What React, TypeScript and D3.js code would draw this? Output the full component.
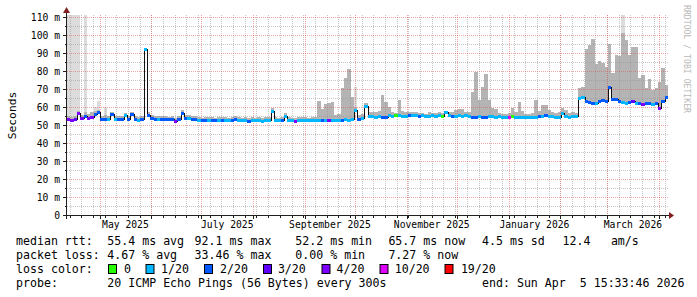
import React from 'react';
import * as d3 from 'd3';

const START = Date.UTC(2025, 3, 11, 12);
const END = Date.UTC(2026, 3, 6, 12);
const STEP_DAYS = 2;

// median rtt per 2-day step (ms)
const median: number[] = [
  53.2, 53.0, 53.4, 56.4, 54.0, 55.2, 54.0, 54.4, 56.2, 57.2,
  53.2, 53.4, 53.3, 56.0, 53.6, 53.2, 53.5, 55.3, 53.4, 56.0,
  53.3, 52.9, 53.4, 92.1, 55.6, 53.8, 53.5, 53.3, 53.6, 53.4,
  53.2, 53.5, 52.2, 53.6, 56.8, 54.0, 53.8, 53.5, 53.3, 52.6,
  52.6, 52.8, 52.7, 52.9, 52.6, 52.8, 53.0, 52.7, 52.6, 52.9,
  53.4, 52.9, 52.6, 52.8, 52.5, 52.7, 52.6, 52.8, 52.5, 52.7,
  52.8, 58.0, 52.7, 52.6, 52.8, 55.0, 52.7, 52.6, 52.5, 52.8,
  52.7, 52.8, 52.6, 52.8, 52.7, 52.9, 52.8, 52.6, 52.8, 52.7,
  52.8, 52.9, 53.0, 53.2, 52.9, 53.4, 58.3, 53.6, 53.8, 60.7,
  55.2, 54.8, 54.6, 55.0, 54.3, 54.5, 55.3, 55.0, 55.6, 55.3,
  55.2, 55.0, 55.4, 55.6, 55.3, 55.1, 55.4, 55.2, 55.0, 55.3,
  55.2, 55.4, 55.0, 57.4, 55.3, 55.0, 55.2, 55.4, 55.1, 55.3,
  54.8, 54.5, 54.7, 54.9, 54.6, 54.4, 54.8, 54.9, 54.6, 54.8,
  54.6, 54.4, 54.3, 54.9, 54.6, 54.5, 54.7, 54.5, 54.4, 54.6,
  54.6, 55.2, 54.8, 55.6, 54.9, 55.0, 54.7, 54.6, 56.8, 54.8,
  54.6, 54.8, 54.9, 65.0, 65.8, 63.2, 62.6, 62.4, 62.0, 63.5,
  63.8, 63.6, 71.0, 64.6, 64.2, 63.6, 63.0, 62.4, 62.8, 63.2,
  62.2, 62.0, 61.6, 62.3, 62.0, 61.8, 62.5, 59.5, 63.5, 65.7,
];

// loss class per step (index into lossColors)
const loss: number[] = [
  4, 4, 3, 4, 4, 2, 4, 4, 2, 2,
  2, 2, 1, 2, 1, 2, 2, 1, 2, 2,
  2, 1, 2, 1, 2, 2, 2, 1, 2, 2,
  2, 2, 4, 2, 2, 2, 1, 2, 2, 1,
  2, 2, 1, 2, 2, 1, 2, 1, 1, 2,
  2, 1, 1, 1, 2, 1, 1, 1, 1, 1,
  1, 1, 1, 1, 2, 1, 1, 1, 4, 1,
  1, 1, 1, 1, 1, 1, 2, 1, 4, 1,
  1, 1, 2, 1, 1, 1, 1, 2, 1, 1,
  1, 1, 1, 1, 2, 2, 1, 1, 0, 1,
  1, 1, 2, 1, 1, 2, 1, 1, 1, 1,
  1, 1, 0, 1, 1, 2, 1, 1, 1, 1,
  1, 2, 2, 1, 2, 2, 1, 1, 1, 1,
  1, 1, 5, 0, 1, 1, 1, 1, 1, 1,
  1, 2, 1, 2, 1, 1, 1, 1, 1, 1,
  1, 1, 1, 1, 1, 2, 2, 2, 1, 2,
  2, 2, 2, 2, 2, 2, 1, 1, 2, 3,
  1, 2, 4, 2, 2, 1, 2, 4, 2, 2,
];

// upper edge of the (dark) smoke per step (ms)
const smoke: number[] = [
  55, 54.5, 55, 58, 55.5, 57, 56, 57, 58, 58.5,
  54.8, 55.5, 54.8, 57.5, 55, 54.8, 55, 56.8, 55, 57.5,
  54.8, 54.5, 55, 93, 57, 55.3, 55, 54.8, 55, 55,
  54.7, 55, 54, 55, 58.3, 55.5, 55.3, 55, 54.8, 54.2,
  54.1, 54.3, 54.2, 54.4, 54.1, 54.3, 54.5, 54.2, 54.1, 54.4,
  54.9, 54.4, 54.1, 54.3, 54, 54.2, 54.1, 54.3, 54, 54.2,
  54.3, 59.5, 54.2, 54.1, 54.3, 56.5, 54.2, 54.1, 54, 54.3,
  54.2, 54.3, 54.1, 54.3, 54.2, 63.5, 59, 61.5, 62, 63,
  55.5, 56, 70.4, 76, 81, 65.7, 60, 55.5, 56, 62,
  57, 57, 57.5, 58, 66.7, 63, 60, 57, 56.5, 64,
  58, 57, 57.5, 57, 57.5, 56.5, 56.5, 56.3, 57, 56.8,
  56.5, 57, 56.5, 58, 57, 57.5, 58.5, 59, 59, 57,
  57, 68.5, 79.6, 63.9, 71.3, 78.3, 63.9, 59.4, 59, 56.6,
  56, 56, 56.5, 59.3, 57, 63, 58, 56, 56, 56.5,
  63.9, 58, 61, 61, 58.3, 57, 56.5, 57.5, 59.4, 58.3,
  56.5, 57, 56.6, 70.4, 70.9, 92, 94.5, 97.6, 84, 85.5,
  84.6, 82.4, 95, 78.7, 89, 88.5, 101, 97, 89, 93.5,
  93.5, 75.9, 77.8, 70.4, 75.4, 69.4, 70.4, 74, 81.5, 72.5,
];

// outer (light) smoke maxima: [step, ms]
const smokeLight: [number, number][] = [
  [0, 200], [1, 200], [2, 200], [3, 200], [5, 200],
  [8, 60], [9, 63.5], [11, 60], [86, 71], [166, 112],
];

const lossColors = ['#26ff00', '#00b8ff', '#0059ff', '#5e00ff', '#7e00ff', '#dd00ff', '#ff0000'];
const lossLabels = ['0', '1/20', '2/20', '3/20', '4/20', '10/20', '19/20'];
const yMajor = [0, 10, 20, 30, 40, 50, 60, 70, 80, 90, 100, 110];
const yMinor = [5, 15, 25, 35, 45, 55, 65, 75, 85, 95, 105];
const xLabelMonths = ['2025-05', '2025-07', '2025-09', '2025-11', '2026-01', '2026-03'];
const rttStats = ['55.4 ms avg', '92.1 ms max', '52.2 ms min', '65.7 ms now', '4.5 ms sd', '12.4', 'am/s'];
const lossStats = ['4.67 % avg', '33.46 % max', '0.00 % min', '7.27 % now'];
const probeText = '20 ICMP Echo Pings (56 Bytes) every 300s';
const endText = 'end: Sun Apr  5 15:33:46 2026';

// layout (pixel columns of legend items)
const rttX = [107.3, 194.6, 295.3, 388.4, 482, 562.6, 610.9];
const lossX = [107.3, 194.6, 295.3, 388.4];
const boxX = [108.5, 146, 204.5, 263.5, 322, 380, 445];
const boxLabelX = [123.9, 161, 220.1, 277.9, 336.5, 394.7, 460.9];

const MONO = "'DejaVu Sans Mono', monospace";

export default function App() {
  const W = 697, H = 297;
  const L = 67, R = 668, T = 15, B = 215;
  const DAY = 86400000;
  const x = d3.scaleUtc().domain([new Date(START), new Date(END)]).range([L, R]);
  const y = d3.scaleLinear().domain([0, 200 / 1.8]).range([B, T]);
  const tx = (i: number) => Math.round(x(new Date(START + i * STEP_DAYS * DAY)));
  const yc = (v: number) => Math.max(T, Math.min(B, y(v)));

  const lightMap = new Map(smokeLight);

  const weeks = d3.utcSunday.range(new Date(START), new Date(END));
  const months = d3.utcMonth.range(new Date(START), new Date(END));

  const linePts: [number, number][] = median.map((m, i) => [tx(i) + 0.5, Math.round(y(m)) + 0.5]);
  linePts.push([tx(median.length) + 0.5, Math.round(y(median[median.length - 1])) + 0.5]);
  const stepLine = d3.line().curve(d3.curveStepAfter)(linePts) || '';

  const minorGrid = 'rgba(143,143,143,0.5)';
  const majorGrid = 'rgba(222,79,79,0.5)';

  return (
    <svg width={W} height={H} style={{ position: 'fixed', left: 0, top: 0, background: '#fff' }}
      xmlns="http://www.w3.org/2000/svg">
      <rect x={0} y={0} width={W} height={H} fill="#ffffff" />
      <defs>
        <clipPath id="plot"><rect x={L} y={T} width={R - L} height={B - T} /></clipPath>
      </defs>

      {/* smoke */}
      <g clipPath="url(#plot)" shapeRendering="crispEdges">
        {median.map((m, i) => {
          const lv = lightMap.get(i);
          if (lv === undefined) return null;
          const top = Math.round(yc(lv));
          return <rect key={'l' + i} x={tx(i)} y={top} width={tx(i + 1) - tx(i)}
            height={Math.round(y(m)) - top} fill="#dcdcdc" />;
        })}
        {median.map((m, i) => {
          const top = Math.round(yc(smoke[i]));
          const h = Math.round(y(m)) - top;
          if (h <= 0) return null;
          return <rect key={'s' + i} x={tx(i)} y={top} width={tx(i + 1) - tx(i)} height={h} fill="#b4b4b4" />;
        })}
      </g>

      {/* grid */}
      <g shapeRendering="crispEdges" strokeWidth={1} strokeDasharray="1,1">
        {yMinor.map(v => (
          <line key={'hy' + v} x1={L} x2={R} y1={Math.round(y(v)) + 0.5} y2={Math.round(y(v)) + 0.5} stroke={minorGrid} />
        ))}
        {weeks.map(d => (
          <line key={'wx' + d.getTime()} x1={Math.round(x(d)) + 0.5} x2={Math.round(x(d)) + 0.5} y1={T} y2={B} stroke={minorGrid} />
        ))}
        {yMajor.filter(v => v > 0).map(v => (
          <line key={'my' + v} x1={L} x2={R} y1={Math.round(y(v)) + 0.5} y2={Math.round(y(v)) + 0.5} stroke={majorGrid} />
        ))}
        {months.map(d => (
          <line key={'mx' + d.getTime()} x1={Math.round(x(d)) + 0.5} x2={Math.round(x(d)) + 0.5} y1={T} y2={B} stroke={majorGrid} />
        ))}
      </g>

      {/* median */}
      <g clipPath="url(#plot)">
        <path d={stepLine} fill="none" stroke="#101010" strokeWidth={1} shapeRendering="crispEdges" />
        <g shapeRendering="crispEdges">
          {median.map((m, i) => (
            <rect key={'c' + i} x={tx(i)} y={Math.round(y(m)) - 1} width={tx(i + 1) - tx(i)} height={3}
              fill={lossColors[loss[i]]} />
          ))}
        </g>
      </g>

      {/* axes */}
      <g shapeRendering="crispEdges" stroke="#1f1f1f">
        <line x1={L - 0.5} x2={L - 0.5} y1={219} y2={12} />
        <line x1={63} x2={670} y1={B + 0.5} y2={B + 0.5} />
        {yMajor.map(v => (
          <line key={'ty' + v} x1={63} x2={L} y1={Math.round(y(v)) + 0.5} y2={Math.round(y(v)) + 0.5} />
        ))}
        {yMinor.map(v => (
          <line key={'tym' + v} x1={65} x2={L} y1={Math.round(y(v)) + 0.5} y2={Math.round(y(v)) + 0.5} />
        ))}
        {weeks.map(d => (
          <line key={'tw' + d.getTime()} x1={Math.round(x(d)) + 0.5} x2={Math.round(x(d)) + 0.5} y1={B} y2={B + 3} />
        ))}
        {months.map(d => (
          <line key={'tm' + d.getTime()} x1={Math.round(x(d)) + 0.5} x2={Math.round(x(d)) + 0.5} y1={B} y2={B + 4} />
        ))}
      </g>
      <path d={`M${L - 4},13 L${L + 3},13 L${L - 0.5},7 Z`} fill="#801f1f" />
      <path d={`M669,${B - 3} L669,${B + 4} L674,${B + 0.5} Z`} fill="#801f1f" />

      {/* y labels */}
      <g fontFamily={MONO} fontSize={9.7} fill="#000">
        {yMajor.map(v => (
          <text key={'yl' + v} x={60} y={y(v)} textAnchor="end" dominantBaseline="central">
            {v === 0 ? '0' : `${v} m`}
          </text>
        ))}
        {xLabelMonths.map(s => {
          const d0 = d3.utcParse('%Y-%m')(s) as Date;
          const d1 = d3.utcMonth.offset(d0, 1);
          const cx = (x(d0) + x(d1)) / 2;
          return <text key={s} x={cx} y={228} textAnchor="middle">{d3.utcFormat('%B %Y')(d0)}</text>;
        })}
      </g>

      <text transform={`translate(16,115.5) rotate(-90)`} textAnchor="middle" fontFamily={MONO}
        fontSize={11.3} fill="#000">Seconds</text>

      <text transform="translate(684,5) rotate(90)" fontFamily={MONO} fontSize={8.3} fill="#b8b8b8"
        textLength={108} lengthAdjust="spacingAndGlyphs">RRDTOOL / TOBI OETIKER</text>

      {/* legend */}
      <g fontFamily={MONO} fontSize={11.6} fill="#000" style={{ whiteSpace: 'pre' }}>
        <text x={16} y={245}>median rtt:</text>
        {rttStats.map((s, i) => <text key={'r' + i} x={rttX[i]} y={245}>{s}</text>)}
        <text x={16} y={259}>packet loss:</text>
        {lossStats.map((s, i) => <text key={'p' + i} x={lossX[i]} y={259}>{s}</text>)}
        <text x={16} y={273}>loss color:</text>
        {lossLabels.map((s, i) => (
          <g key={'lc' + i}>
            <rect x={boxX[i]} y={264.5} width={8} height={9} fill={lossColors[i]} stroke="#000" strokeWidth={1} />
            <text x={boxLabelX[i]} y={273}>{s}</text>
          </g>
        ))}
        <text x={16} y={287}>probe:</text>
        <text x={107.3} y={287}>{probeText}</text>
        <text x={482} y={287} xmlSpace="preserve">{endText}</text>
      </g>
    </svg>
  );
}
